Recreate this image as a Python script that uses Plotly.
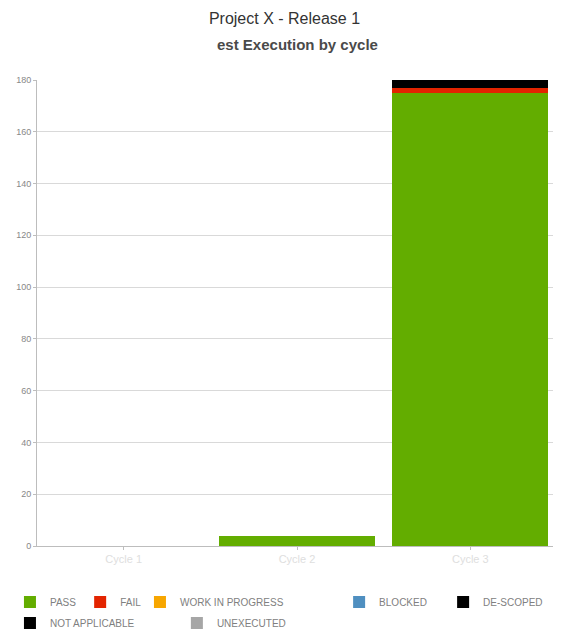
import plotly.graph_objects as go

categories = ["Cycle 1", "Cycle 2", "Cycle 3"]
statuses = ["PASS", "FAIL", "WORK IN PROGRESS", "BLOCKED", "DE-SCOPED", "NOT APPLICABLE", "UNEXECUTED"]
colors = ["#63ad00", "#e32400", "#f7a600", "#4f8fc0", "#000000", "#000000", "#a6a6a6"]
pass_vals = [0, 4, 175]
fail_vals = [0, 0, 2]
wip_vals = [0, 0, 0]
blocked_vals = [0, 0, 0]
descoped_vals = [0, 0, 3]
na_vals = [0, 0, 0]
unexec_vals = [0, 0, 0]
series = [pass_vals, fail_vals, wip_vals, blocked_vals, descoped_vals, na_vals, unexec_vals]

FONT = "Liberation Sans, Arial, sans-serif"

# legend placement (paper coords) per status
legend_pos = [(-0.052, -0.120), (0.083, -0.120), (0.198, -0.120), (0.581, -0.120), (0.781, -0.120),
              (-0.052, -0.165), (0.269, -0.165)]

fig = go.Figure()
layout_legends = {}
for i, (name, col, vals) in enumerate(zip(statuses, colors, series)):
    lname = "legend" if i == 0 else f"legend{i+1}"
    fig.add_trace(go.Bar(x=categories, y=vals, name=name, marker=dict(color=col, line=dict(width=0)),
                         legend=lname, showlegend=True))
    lx, ly = legend_pos[i]
    layout_legends[lname] = dict(x=lx, y=ly, xanchor="left", yanchor="middle",
                                 orientation="h", bgcolor="rgba(0,0,0,0)",
                                 font=dict(family=FONT, size=10, color="#808080"),
                                 itemwidth=30, tracegroupgap=0)

# the page body has an 8px default margin; figure size compensates for it
fig.update_layout(
    barmode="stack",
    bargap=0.1,
    width=553, height=622,
    margin=dict(l=29, r=4, t=72, b=84, autoexpand=False),
    paper_bgcolor="white", plot_bgcolor="white",
    title=dict(text="Project X - Release 1",
               x=0.5, xanchor="center", y=0.984, yanchor="middle",
               font=dict(family=FONT, size=16, color="#333")),
    font=dict(family=FONT),
    annotations=[dict(text="<b>est Execution by cycle</b>", xref="paper", yref="paper",
                      x=0.5, y=1.077, xanchor="center", yanchor="middle", showarrow=False,
                      font=dict(family=FONT, size=15, color="#4a4a4a"))],
    **layout_legends,
)
fig.update_yaxes(range=[0, 180], dtick=20, showgrid=True, gridcolor="#d9d9d9", gridwidth=1,
                 showline=True, linecolor="#bdbdbd", linewidth=1, ticks="outside", ticklen=3,
                 tickcolor="#bdbdbd", tickfont=dict(size=9, color="#888"), zeroline=False)
fig.update_xaxes(showline=True, linecolor="#bdbdbd", linewidth=1, ticks="outside", ticklen=3,
                 tickcolor="#bdbdbd", tickfont=dict(size=11, color="#dedede"), showgrid=False)

fig.write_html("out.html")
